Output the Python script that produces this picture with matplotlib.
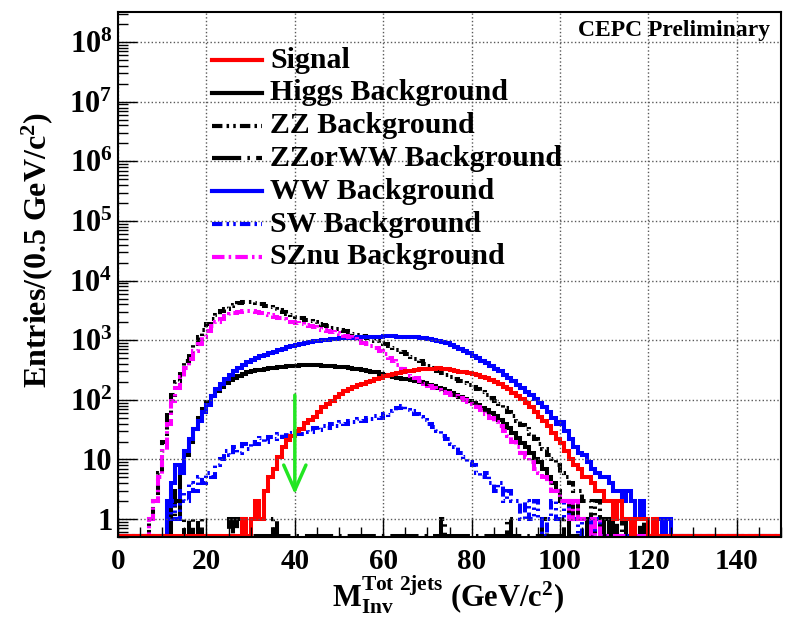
import numpy as np
import matplotlib.pyplot as plt
from matplotlib.ticker import MultipleLocator, LogLocator, FuncFormatter, NullFormatter

plt.rcParams['font.family'] = ['Liberation Serif', 'DejaVu Serif']
plt.rcParams['font.weight'] = 'bold'
plt.rcParams['axes.labelweight'] = 'bold'
plt.rcParams['mathtext.fontset'] = 'custom'
plt.rcParams['mathtext.rm'] = 'Liberation Serif:bold'
plt.rcParams['mathtext.bf'] = 'Liberation Serif:bold'
plt.rcParams['mathtext.it'] = 'Liberation Serif:bold'

# -----------------------------
# data: entries per bin (1 GeV steps, start bin + counts)
# -----------------------------
n_bins = 150
cut_value = 40  # green arrow position

signal_start = 28
signal = [1, 0, 1, 2, 1, 3, 5, 7, 11, 16, 21, 25, 30, 33, 41, 46, 51, 62, 75, 86,
          95, 110, 125, 140, 152, 165, 175, 188, 198, 210, 222, 235, 248, 258, 270,
          280, 290, 300, 310, 318, 325, 330, 335, 332, 336, 330, 328, 318, 310, 298,
          290, 280, 268, 258, 245, 230, 215, 198, 182, 165, 150, 132, 118, 102, 88,
          75, 63, 52, 44, 36, 28, 22, 19, 14, 10, 8, 7, 5, 5, 4, 3, 3, 2, 2, 1, 2,
          1, 1, 0, 1, 1, 1, 0, 1]

higgs_start = 11
higgs = [1, 3, 2, 6, 12, 20, 33, 50, 70, 92, 115, 140, 165, 190, 215, 235, 255, 272,
         288, 300, 312, 322, 332, 340, 348, 355, 362, 368, 372, 376, 378, 380, 382,
         380, 378, 376, 372, 368, 362, 356, 350, 342, 335, 326, 318, 308, 298, 288,
         276, 265, 255, 245, 236, 228, 220, 212, 205, 198, 190, 180, 170, 160, 150,
         140, 130, 122, 113, 105, 97, 90, 82, 74, 67, 60, 53, 46, 40, 34, 28, 23, 19,
         16, 13, 10, 9, 7, 5, 4, 3, 2, 2, 1, 2, 1, 1, 0, 1, 1, 0, 1]

zz_start = 7
zz = [1, 2, 6, 20, 60, 120, 200, 310, 440, 620, 850, 1150, 1500, 1900, 2300, 2700,
      3050, 3400, 3700, 3950, 4150, 4300, 4350, 4300, 4150, 4000, 3800, 3600, 3400,
      3200, 3000, 2800, 2620, 2450, 2320, 2200, 2100, 2000, 1900, 1800, 1710, 1620,
      1550, 1480, 1410, 1350, 1290, 1230, 1160, 1100, 1030, 970, 910, 850, 790, 740,
      680, 630, 580, 530, 485, 440, 405, 370, 340, 310, 285, 265, 245, 228, 210, 195,
      180, 165, 150, 135, 120, 108, 95, 84, 72, 62, 53, 45, 38, 32, 27, 22, 18, 15,
      12, 10, 8, 6, 5, 4, 3, 3, 2, 2, 1, 2, 1, 0, 1, 1, 0, 1]

zzww_bins = [12, 13, 14, 16, 18, 25, 27, 35, 73, 88, 96, 101, 108, 112, 115, 118]
zzww_counts = [1, 2, 1, 1, 1, 1, 1, 1, 1, 1, 1, 1, 1, 1, 1, 1]

ww_start = 11
ww = [2, 4, 8, 6, 14, 22, 32, 45, 62, 82, 115, 150, 185, 220, 260, 300, 345, 390,
      430, 470, 505, 540, 575, 610, 645, 680, 720, 760, 800, 840, 870, 900, 930, 955,
      980, 1000, 1020, 1040, 1060, 1080, 1090, 1100, 1110, 1120, 1130, 1140, 1145,
      1150, 1155, 1160, 1160, 1158, 1155, 1150, 1140, 1130, 1115, 1100, 1080, 1050,
      1020, 980, 940, 890, 840, 780, 720, 660, 600, 545, 495, 450, 410, 370, 335,
      300, 265, 235, 205, 180, 158, 138, 120, 104, 90, 76, 62, 50, 40, 42, 30, 22,
      16, 13, 12, 9, 7, 6, 5, 5, 4, 3, 3, 2, 3, 2, 1, 2, 1, 0, 0, 1, 0, 1]

sw_start = 11
sw = [1, 2, 1, 3, 2, 4, 3, 5, 4, 6, 5, 8, 10, 14, 12, 16, 13, 18, 15, 20, 18, 23, 20,
      24, 22, 27, 24, 28, 26, 30, 27, 32, 29, 34, 31, 37, 34, 40, 36, 42, 39, 45, 42,
      48, 44, 50, 47, 53, 50, 58, 55, 65, 72, 78, 68, 64, 58, 52, 46, 40, 35, 30, 25,
      22, 18, 16, 13, 11, 9, 8, 6, 5, 6, 4, 3, 4, 2, 3, 2, 2, 1, 2, 1, 2, 1, 0, 1, 2,
      1, 1, 2, 1, 1, 0, 1, 1, 0, 1]

sznu_start = 7
sznu = [1, 2, 5, 14, 40, 95, 160, 240, 340, 480, 650, 880, 1150, 1450, 1750, 2050,
        2300, 2550, 2750, 2900, 3000, 3100, 3100, 3050, 2950, 2850, 2750, 2600, 2500,
        2380, 2250, 2150, 2050, 1950, 1880, 1800, 1720, 1650, 1570, 1500, 1440, 1380,
        1310, 1250, 1180, 1120, 1050, 980, 910, 850, 790, 730, 650, 580, 510, 440,
        380, 330, 290, 255, 230, 205, 188, 170, 158, 145, 136, 128, 121, 115, 108,
        100, 93, 85, 76, 67, 58, 50, 43, 36, 30, 25, 20, 16, 13, 11, 9, 7, 6, 5, 4,
        3, 3, 2, 2, 1, 2, 1, 1, 1, 0, 1]


def fill_bins(start, counts):
    h = np.zeros(n_bins)
    h[start:start + len(counts)] = counts
    return h


h_zzww = np.zeros(n_bins)
h_zzww[zzww_bins] = zzww_counts

# label, histogram, colour, line style  (drawing order)
series = [
    ("ZZorWW Background", h_zzww, "black", (0, (7, 1.5, 0.6, 1.5))),
    ("ZZ Background", fill_bins(zz_start, zz), "black", (0, (2.5, 1, 0.6, 1, 0.6, 1))),
    ("Higgs Background", fill_bins(higgs_start, higgs), "black", "-"),
    ("WW Background", fill_bins(ww_start, ww), "blue", "-"),
    ("SW Background", fill_bins(sw_start, sw), "blue", (0, (2.5, 1, 0.6, 1, 0.6, 1))),
    ("SZnu Background", fill_bins(sznu_start, sznu), "magenta", (0, (3, 1, 0.6, 1))),
    ("Signal", fill_bins(signal_start, signal), "red", "-"),
]
legend_order = ["Signal", "Higgs Background", "ZZ Background", "ZZorWW Background",
                "WW Background", "SW Background", "SZnu Background"]

y_min, y_max = 0.5, 3.2e8
floor = 0.52  # empty bins are drawn on the bottom of the frame, as ROOT does
edges = np.arange(n_bins + 1)

# -----------------------------
# plot
# -----------------------------
fig = plt.figure(figsize=(7.91, 6.27), dpi=100)
ax = fig.add_axes([0.1492, 0.1435, 0.8382, 0.8373])

styles = {}
for label, h, color, ls in series:
    y = np.where(h > 0, h, floor)
    ax.stairs(y, edges, baseline=None, color=color, linestyle=ls, linewidth=2.9)
    styles[label] = (color, ls)

ax.annotate("", xy=(cut_value, 2.6), xytext=(cut_value, 120),
            arrowprops=dict(arrowstyle="->,head_length=0.9,head_width=0.4",
                            color="#22e622", lw=2.5, mutation_scale=20,
                            shrinkA=0, shrinkB=0))

ax.set_yscale("log")
ax.set_xlim(0, 150)
ax.set_ylim(y_min, y_max)

ax.xaxis.set_major_locator(MultipleLocator(20))
ax.xaxis.set_minor_locator(MultipleLocator(5))
ax.yaxis.set_major_locator(LogLocator(base=10, numticks=20))
ax.yaxis.set_minor_locator(LogLocator(base=10, subs=np.arange(2, 10), numticks=20))
ax.yaxis.set_minor_formatter(NullFormatter())


def y_fmt(v, pos):
    e = int(round(np.log10(v)))
    if e == 0:
        return "1"
    if e == 1:
        return "10"
    return r"$\mathbf{10^{%d}}$" % e


ax.yaxis.set_major_formatter(FuncFormatter(y_fmt))
ax.tick_params(axis="both", which="both", direction="in", top=False, right=False)
ax.tick_params(axis="both", which="major", length=14, width=1)
ax.tick_params(axis="both", which="minor", length=7, width=1)
ax.tick_params(axis="x", which="major", labelsize=21, pad=8)
ax.tick_params(axis="y", which="major", labelsize=22, pad=4)

ax.grid(True, which="major", linestyle=":", color="0.35", linewidth=1)
for s in ax.spines.values():
    s.set_linewidth(1.5)

ax.set_ylabel(r"Entries/(0.5 GeV/c$^{2}$)", fontsize=23, fontweight="bold")
ax.yaxis.set_label_coords(-0.095, 0.547)
ax.text(0.498, -0.11, r"$\mathbf{M_{Inv}^{Tot\ 2jets}}$ (GeV/c$^{2}$)",
        transform=ax.transAxes, ha="center", va="center", fontsize=22)

ax.text(0.983, 0.985, "CEPC Preliminary", transform=ax.transAxes,
        ha="right", va="top", fontsize=17)

# legend, drawn by hand like the ROOT TLegend
for i, label in enumerate(legend_order):
    color, ls = styles[label]
    y = (537 - (60 + 32.8 * i)) / 525
    ax.plot([0.1418, 0.2172], [y, y], transform=ax.transAxes, color=color,
            linestyle=ls, linewidth=3, clip_on=False)
    ax.text(0.2293, y, label, transform=ax.transAxes, ha="left", va="center",
            fontsize=21.5)

fig.savefig("out.png", dpi=100)
